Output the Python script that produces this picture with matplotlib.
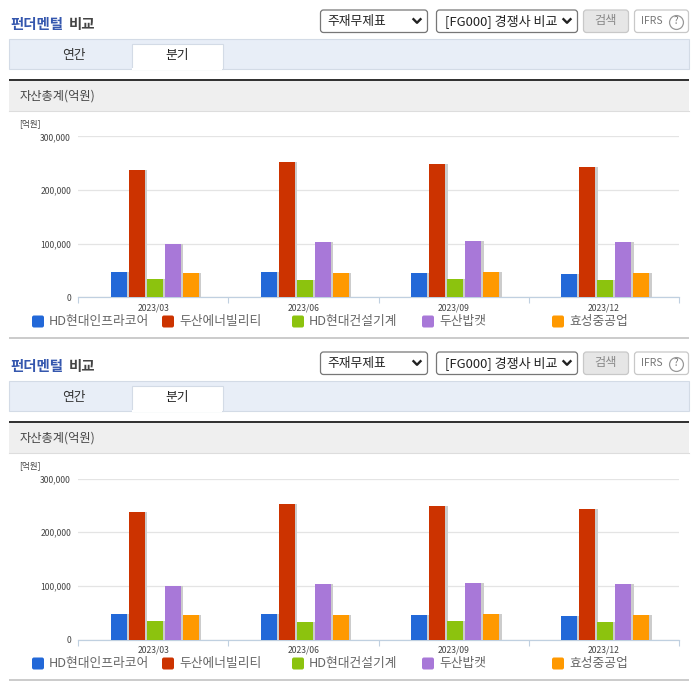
import matplotlib
matplotlib.use("Agg")
import matplotlib.pyplot as plt
import matplotlib.patheffects as pe
from matplotlib.patches import Rectangle, FancyBboxPatch
from matplotlib.ticker import FuncFormatter, FixedLocator, NullFormatter

plt.rcParams['font.family'] = ['Noto Sans CJK KR', 'DejaVu Sans']

periods = ['2023/03', '2023/06', '2023/09', '2023/12']
companies = ['HD현대인프라코어', '두산에너빌리티', 'HD현대건설기계', '두산밥캣', '효성중공업']
colors = ['#2268d8', '#cc3300', '#8cc30e', '#a878d8', '#ff9900']
infracore = [48000, 48000, 46000, 44000]
enerbility = [238000, 252000, 248000, 244000]
construction = [35000, 33000, 35000, 33000]
bobcat = [99000, 103000, 105000, 103000]
hyosung = [46000, 46000, 48000, 46000]
series = [infracore, enerbility, construction, bobcat, hyosung]
yticks = [0, 100000, 200000, 300000]
legend_x = [32, 162, 292, 422, 552]

W, H = 696, 684
fig = plt.figure(figsize=(W / 100, H / 100), dpi=100, facecolor='white')
bg = fig.add_axes([0, 0, 1, 1], zorder=0)
bg.set_xlim(0, W)
bg.set_ylim(H, 0)
bg.axis('off')


def rect(x0, y0, x1, y1, fc, ec='none', lw=0.0):
    bg.add_patch(Rectangle((x0, y0), x1 - x0, y1 - y0, fc=fc, ec=ec, lw=lw))


def rbox(x0, y0, x1, y1, fc, ec):
    bg.add_patch(FancyBboxPatch((x0, y0), x1 - x0, y1 - y0,
                                boxstyle='round,pad=0,rounding_size=3',
                                fc=fc, ec=ec, lw=0.9))


def chevron(xc, yc):
    bg.plot([xc - 3.5, xc, xc + 3.5], [yc - 1.8, yc + 1.8, yc - 1.8], color='#222222', lw=1.7)


def panel(dy):
    # heading
    bg.text(10, 24.5 + dy, '펀더멘털', color='#3557ae', fontsize=10.4, fontweight='bold', va='center')
    bg.text(69, 24.5 + dy, '비교', color='#444444', fontsize=10.4, fontweight='bold', va='center')
    # controls
    rbox(320.5, 10 + dy, 427.5, 32.5 + dy, 'white', '#777777')
    bg.text(327.5, 21.5 + dy, '주재무제표', fontsize=9.2, color='#222222', va='center')
    chevron(417, 21 + dy)
    rbox(436.5, 10 + dy, 577.5, 32.5 + dy, 'white', '#777777')
    bg.text(445, 21.5 + dy, '[FG000] 경쟁사 비교', fontsize=9.4, color='#222222', va='center')
    chevron(567, 21 + dy)
    rbox(583.5, 10 + dy, 628.5, 32.5 + dy, '#e6e6e6', '#c8c8c8')
    bg.text(606, 20.5 + dy, '검색', fontsize=8.8, color='#888888', va='center', ha='center')
    rbox(634.5, 10 + dy, 688.5, 32.5 + dy, 'white', '#c8c8c8')
    bg.text(641, 21 + dy, 'IFRS', fontsize=7.5, color='#777777', va='center')
    bg.plot([675.5], [21.5 + dy], 'o', ms=10, mfc='white', mec='#999999', mew=0.9)
    bg.text(675.5, 21.5 + dy, '?', fontsize=7, color='#777777', va='center', ha='center')
    # tabs
    rect(9, 39 + dy, 689, 68.5 + dy, '#e8eef7', '#d3dbe6', 0.8)
    rect(131.5, 44 + dy, 222.5, 68.5 + dy, 'white', '#d3dbe6', 0.8)
    rect(132, 67.5 + dy, 222, 69.5 + dy, 'white')
    bg.text(74, 55.5 + dy, '연간', fontsize=9.2, color='#333333', va='center', ha='center')
    bg.text(177, 55.5 + dy, '분기', fontsize=9.2, color='#222222', va='center', ha='center')
    # section band
    rect(9, 81 + dy, 689, 111 + dy, '#efefef')
    rect(9, 79 + dy, 689, 81 + dy, '#333333')
    bg.plot([9, 689], [111 + dy, 111 + dy], color='#dddddd', lw=0.8)
    bg.text(19.5, 96 + dy, '자산총계(억원)', fontsize=8.8, color='#444444', va='center')
    bg.text(19, 123.5 + dy, '[억원]', fontsize=6.2, color='#444444', va='center')
    # legend
    for x, name, col in zip(legend_x, companies, colors):
        bg.add_patch(FancyBboxPatch((x, 315.5 + dy), 12, 12,
                                    boxstyle='round,pad=0,rounding_size=2', fc=col, ec='none'))
        bg.text(x + 17, 321.5 + dy, name, fontsize=9.2, color='#666666', va='center')
    # bottom rule
    rect(9, 337 + dy, 689, 339 + dy, '#cccccc')

    # chart
    ax = fig.add_axes([78 / W, 1 - (297.5 + dy) / H, 601 / W, 161 / H], zorder=1)
    ax.patch.set_alpha(0)
    ax.set_xlim(0, 4)
    ax.set_ylim(0, 300000)
    step = 18 / 150.25
    width = 16 / 150.25
    shift = 1.5 / 150.25
    for i, (vals, col) in enumerate(zip(series, colors)):
        xs = [k + 0.5 + shift + (i - 2) * step for k in range(len(vals))]
        ax.bar(xs, vals, width=width, color=col, zorder=3,
               path_effects=[pe.SimplePatchShadow(offset=(1.8, 0), shadow_rgbFace='#cccccc', alpha=1.0),
                             pe.Normal()])
    for s in ['top', 'right', 'left']:
        ax.spines[s].set_visible(False)
    ax.spines['bottom'].set_color('#c0d0e0')
    ax.spines['bottom'].set_linewidth(0.9)
    ax.set_axisbelow(True)
    ax.yaxis.grid(True, color='#e4e4e4', lw=0.9)
    ax.yaxis.set_major_locator(FixedLocator(yticks))
    ax.yaxis.set_major_formatter(FuncFormatter(lambda v, _: f'{int(v):,}'))
    ax.tick_params(axis='y', length=0, pad=5, labelsize=6.2, labelcolor='#444444')
    ax.xaxis.set_major_locator(FixedLocator(range(5)))
    ax.xaxis.set_major_formatter(NullFormatter())
    ax.tick_params(axis='x', which='major', length=4, width=0.8, color='#c0d0e0')
    ax.set_xticks([k + 0.5 for k in range(4)], labels=periods, minor=True)
    ax.tick_params(axis='x', which='minor', length=0, pad=4, labelsize=6.2, labelcolor='#444444')


panel(0)
panel(342)
fig.savefig('out.png', dpi=100)
